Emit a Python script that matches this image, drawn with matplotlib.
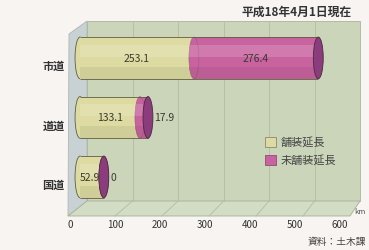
import matplotlib.pyplot as plt
from matplotlib.patches import Ellipse, Polygon, Patch
from matplotlib.transforms import ScaledTranslation

plt.rcParams['font.family'] = ['Noto Sans CJK JP', 'DejaVu Sans']

# data
roads = ['国道', '道道', '市道']
paved = [52.9, 133.1, 253.1]
unpaved = [0, 17.9, 276.4]
series = ['舗装延長', '未舗装延長']
xticks = [0, 100, 200, 300, 400, 500, 600]

YELLOW = '#dedba2'
PINK = '#c8639f'
CAP = '#8b3c7c'
EDGE = '#5f5d40'
TXT = '#333333'

W, H = 369, 251
fig = plt.figure(figsize=(W / 100, H / 100), dpi=100)
fig.patch.set_facecolor('#f8f4f1')

# 3D box behind the chart, in pixel coords
bg = fig.add_axes([0, 0, 1, 1])
bg.set_xlim(0, W)
bg.set_ylim(H, 0)
bg.axis('off')
bg.add_patch(Polygon([(69, 35), (87, 22), (87, 202), (68, 217)], fc='#c8d2d4', ec='#aeb8b2', lw=0.6))
bg.add_patch(Polygon([(87, 22), (360, 22), (360, 202), (87, 202)], fc='#cad5ba', ec='#aab59c', lw=0.6))
bg.add_patch(Polygon([(68, 217), (87, 202), (360, 202), (350, 217)], fc='#d3dcc4', ec='#a5b097', lw=0.6))
for v in xticks[1:-1]:
    xb = 87 + v * (360 - 87) / 600
    xf = 68 + v * (350 - 68) / 600
    bg.plot([xb, xb], [22, 202], color='#b2bda2', lw=0.6)
    bg.plot([xf, xb], [217, 202], color='#b2bda2', lw=0.6)

# data axes
ax = fig.add_axes([80 / W, (H - 216) / H, 270 / W, 194 / H])
ax.set_facecolor('none')
ax.set_xlim(0, 600)
ax.set_ylim(-0.64, 2.62)
for s in ax.spines.values():
    s.set_visible(False)

ys = list(range(len(roads)))
totals = [p + u for p, u in zip(paved, unpaved)]
bh = 0.7
ew = 22

for y, p, u, t in zip(ys, paved, unpaved, totals):
    ax.add_patch(Ellipse((0, y), ew, bh, fc=YELLOW, ec=EDGE, lw=0.6, zorder=2, clip_on=False))
    ax.barh(y, p, height=bh, color=YELLOW, zorder=3)
    ax.barh(y, u, left=p, height=bh, color=PINK, zorder=3)
    ax.add_patch(Ellipse((p, y), ew, bh, fc=PINK, ec='#9a5a84', lw=0.4, zorder=4, clip_on=False))
    ax.barh(y + 0.12, t, height=0.2, color='white', alpha=0.15, lw=0, zorder=5)
    ax.barh(y - 0.25, t, height=0.2, color='black', alpha=0.06, lw=0, zorder=5)
    ax.hlines([y - bh / 2, y + bh / 2], 0, t, color=EDGE, lw=0.6, zorder=6)
    ax.add_patch(Ellipse((t, y), ew, bh, fc=CAP, ec='#4a2a40', lw=0.6, zorder=7, clip_on=False))

# value labels
lab = dict(fontsize=7.5, color='#3a3a30', va='center', zorder=8)
ax.text(paved[2] / 2, 2, f'{paved[2]}', ha='center', **lab)
ax.text(paved[2] + unpaved[2] / 2, 2, f'{unpaved[2]}', ha='center', **lab)
ax.text(paved[1] / 2, 1, f'{paved[1]}', ha='center', **lab)
ax.text(totals[1] + 14, 1, f'{unpaved[1]}', ha='left', **lab)
ax.text(paved[0] / 2 - 4, 0, f'{paved[0]}', ha='center', **lab)
ax.text(totals[0] + 14, 0, f'{unpaved[0]:g}', ha='left', **lab)

ax.set_yticks(ys)
ax.set_yticklabels(roads, fontsize=8, fontweight='bold', color=TXT)
ax.tick_params(axis='y', length=0, pad=11)
for t in ax.get_yticklabels():
    t.set_transform(t.get_transform() + ScaledTranslation(0, -0.06, fig.dpi_scale_trans))

ax.set_xticks(xticks)
ax.set_xticklabels([str(v) for v in xticks], fontsize=7, color=TXT)
ax.tick_params(axis='x', length=0, pad=3)
for t in ax.get_xticklabels():
    t.set_transform(t.get_transform() + ScaledTranslation(-0.10, 0, fig.dpi_scale_trans))

handles = [Patch(fc=YELLOW, ec='#8a8870', lw=0.6), Patch(fc=PINK, ec='#8f4a78', lw=0.6)]
fig.legend(handles, series, loc='upper left', bbox_to_anchor=(265 / W, 1 - 138 / H),
           frameon=False, fontsize=8, handlelength=1.0, handleheight=1.0,
           labelspacing=0.6, handletextpad=0.4, borderpad=0, borderaxespad=0,
           labelcolor='#444444')

fig.text(352 / W, 1 - 12 / H, '平成18年4月1日現在', ha='right', va='center',
         fontsize=8.5, fontweight='bold', color=TXT)
fig.text(366 / W, 1 - 242 / H, '資料：土木課', ha='right', va='center', fontsize=7, color='#444444')
fig.text(360 / W, 1 - 212 / H, 'km', ha='center', va='center', fontsize=5.5, color='#555555')

fig.savefig('out.png', dpi=100, facecolor=fig.get_facecolor())
